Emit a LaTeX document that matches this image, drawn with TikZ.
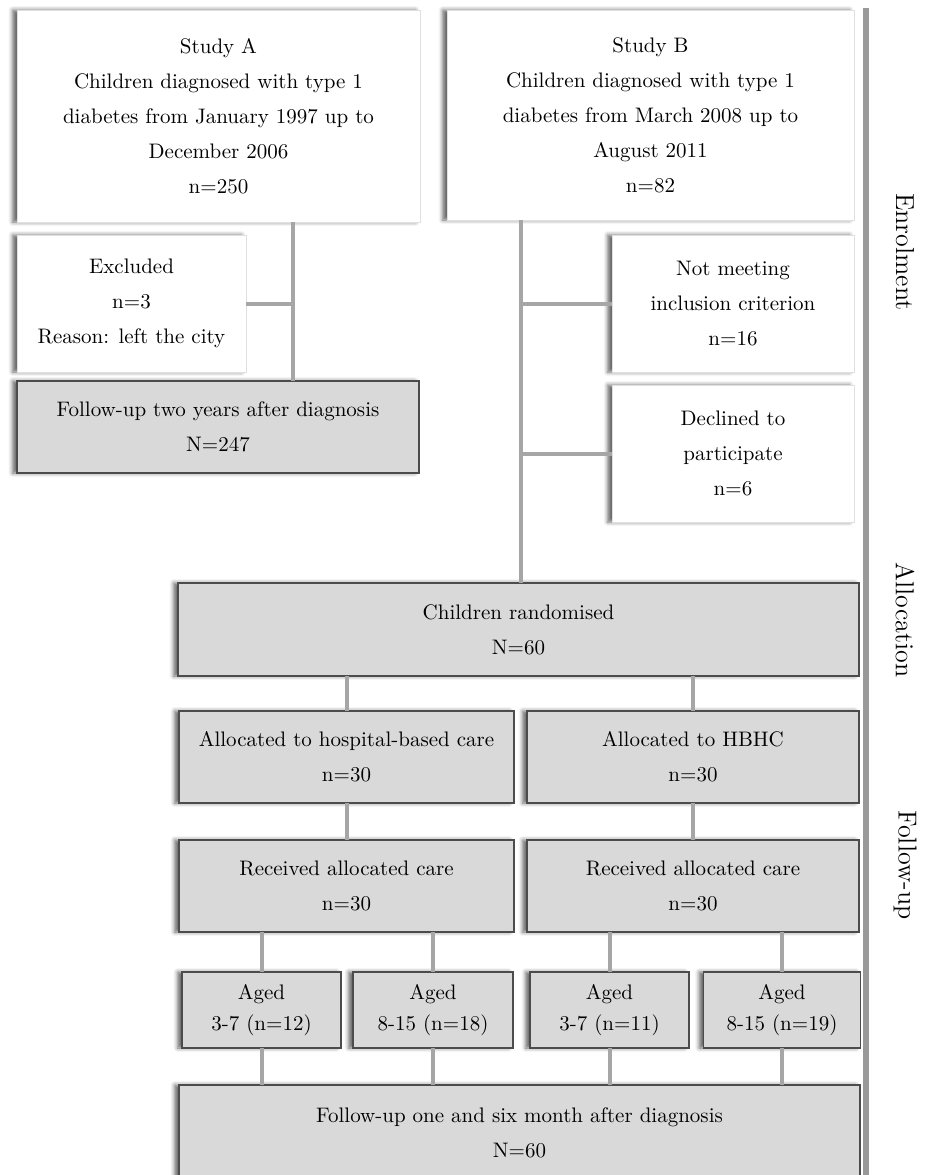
\documentclass[tikz,border=0pt]{standalone}
\usetikzlibrary{shadows.blur}

\begin{document}
\begin{tikzpicture}[x=0.5pt,y=-0.5pt,
	txt/.style={align=center,font=\fontsize{10.5}{17.5}\selectfont,inner sep=0,outer sep=0},
	soft/.style={blur shadow={shadow xshift=-2.2pt,shadow yshift=0pt,shadow blur radius=2pt,shadow opacity=60}},
	whitebox/.style={txt,soft,draw=black!12,fill=white},
	graybox/.style={txt,soft,draw=black!70,line width=0.6pt,fill=black!15},
	agebox/.style={graybox,font=\fontsize{10.5}{15.5}\selectfont},
	link/.style={draw=black!35,line width=2pt},
	bar/.style={draw=black!40,line width=3pt},
	phase/.style={rotate=-90,font=\fontsize{13}{15}\selectfont}]
	\useasboundingbox (0,0) rectangle (947,1175);
	\node[whitebox,minimum width=201.5pt,minimum height=106pt] (1) at (218.5,116) {Study A\\Children diagnosed with type 1\\diabetes from January 1997 up to\\December 2006\\n=250};
	\node[whitebox,minimum width=203.5pt,minimum height=105pt] (2) at (650.5,115) {Study B\\Children diagnosed with type 1\\diabetes from March 2008 up to\\August 2011\\n=82};
	\node[whitebox,minimum width=114.5pt,minimum height=68.5pt] (3) at (131.5,303.5) {Excluded\\n=3\\Reason: left the city};
	\node[graybox,minimum width=201pt,minimum height=46pt] (4) at (218,427) {Follow-up two years after diagnosis\\N=247};
	\node[whitebox,minimum width=121pt,minimum height=68.5pt] (5) at (733,303.5) {Not meeting\\inclusion criterion\\n=16};
	\node[whitebox,minimum width=121pt,minimum height=68.5pt] (6) at (733,453.5) {Declined to\\participate\\n=6};
	\node[graybox,minimum width=340.5pt,minimum height=46.5pt] (7) at (518.5,629.5) {Children randomised\\N=60};
	\node[graybox,minimum width=167.5pt,minimum height=46pt] (8) at (346.5,757) {Allocated to hospital-based care\\n=30};
	\node[graybox,minimum width=166pt,minimum height=46pt] (9) at (693,757) {Allocated to HBHC\\n=30};
	\node[graybox,minimum width=167.5pt,minimum height=46pt] (10) at (346.5,886) {Received allocated care\\n=30};
	\node[graybox,minimum width=166pt,minimum height=46pt] (11) at (693,886) {Received allocated care\\n=30};
	\node[agebox,minimum width=79.5pt,minimum height=38pt] (12) at (261.5,1010) {Aged\\3-7 (n=12)};
	\node[agebox,minimum width=80pt,minimum height=38pt] (13) at (433,1010) {Aged\\8-15 (n=18)};
	\node[agebox,minimum width=79.5pt,minimum height=38pt] (14) at (609.5,1010) {Aged\\3-7 (n=11)};
	\node[agebox,minimum width=78.5pt,minimum height=38pt] (15) at (782,1010) {Aged\\8-15 (n=19)};
	\node[graybox,minimum width=340.5pt,minimum height=47.5pt] (16) at (519.5,1132.5) {Follow-up one and six month after diagnosis\\N=60};
	% phases
	\coordinate (top) at (866,8);
	\coordinate (bottom) at (866,1175);
	\draw[bar] (top) -- (bottom);
	\node[phase] (17) at (905,252) {Enrolment};
	\node[phase] (18) at (905,620) {Allocation};
	\node[phase] (19) at (905,865) {Follow-up};
	% study A
	\coordinate (a) at (293,300);
	\draw[link] (1.south -| a) -- (4.north -| a);
	\draw[link] (3.east) -- (3.east -| a);
	% study B
	\coordinate (b) at (521,300);
	\draw[link] (2.south -| b) -- (7.north -| b);
	\draw[link] (5.west -| b) -- (5.west);
	\draw[link] (6.west -| b) -- (6.west);
	% trial
	\draw[link] (7.south -| 8.north) -- (8.north);
	\draw[link] (7.south -| 9.north) -- (9.north);
	\draw[link] (8) -- (10);
	\draw[link] (9) -- (11);
	\draw[link] (10.south -| 12.north) -- (12.north);
	\draw[link] (10.south -| 13.north) -- (13.north);
	\draw[link] (11.south -| 14.north) -- (14.north);
	\draw[link] (11.south -| 15.north) -- (15.north);
	\draw[link] (12.south) -- (12.south |- 16.north);
	\draw[link] (13.south) -- (13.south |- 16.north);
	\draw[link] (14.south) -- (14.south |- 16.north);
	\draw[link] (15.south) -- (15.south |- 16.north);
\end{tikzpicture}
\end{document}
